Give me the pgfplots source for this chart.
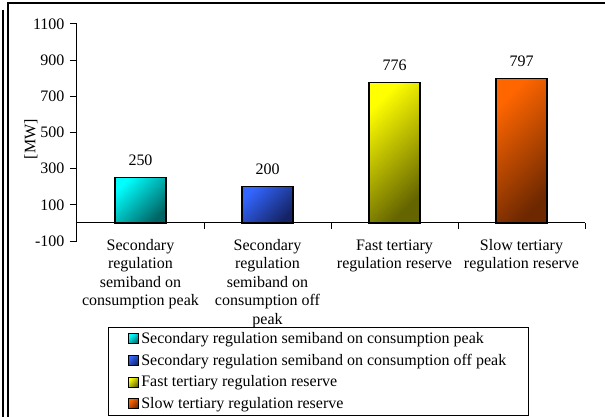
\documentclass[border=0pt]{standalone}
\usepackage{pgfplots}
\pgfplotsset{compat=1.18}
\usepackage{fontspec}
\setmainfont{Liberation Serif}
\newcommand\f{\fontsize{16}{18.4}\selectfont}

\definecolor{c1a}{RGB}{0,255,255}   \definecolor{c1b}{RGB}{0,100,100}
\definecolor{c2a}{RGB}{51,102,255}  \definecolor{c2b}{RGB}{20,35,100}
\definecolor{c3a}{RGB}{255,255,0}   \definecolor{c3b}{RGB}{100,100,0}
\definecolor{c4a}{RGB}{255,102,0}   \definecolor{c4b}{RGB}{110,40,0}

\begin{document}
\begin{tikzpicture}
\begin{axis}[
    at={(0,0)}, anchor=south west,
    scale only axis,
    width=508pt, height=217pt,
    axis x line*=middle, axis y line*=left,
    axis line style={line width=1pt},
    xmin=-0.5, xmax=3.5,
    ymin=-100, ymax=1100,
    ytick={-100,100,300,500,700,900,1100},
    xtick={0,1,2,3},
    minor xtick={-0.5,0.5,1.5,2.5,3.5},
    xticklabels={
        {Secondary\\regulation\\semiband on\\consumption peak},
        {Secondary\\regulation\\semiband on\\consumption off\\peak},
        {Fast tertiary\\regulation reserve},
        {Slow tertiary\\regulation reserve}},
    major x tick style={draw=none},
    tick align=outside,
    major tick length=7pt, minor tick length=6pt,
    tick style={line width=1pt, black},
    every tick label/.append style={font=\f},
    /pgf/number format/assume math mode=true,
    /pgf/number format/1000 sep={},
    xticklabel style={align=center, anchor=north, yshift=-6pt},
    yticklabel style={xshift=-2pt},
    ylabel={[MW]},
    ylabel style={font=\f, at={(axis description cs:-0.0906,0.47)}, anchor=center},
    ybar, bar width=51pt, bar shift=0pt,
    nodes near coords,
    nodes near coords style={font=\f, anchor=base, yshift=12pt},
    legend style={at={(axis description cs:0.061,-0.396)}, anchor=north west,
        draw=black, line width=1pt, font=\f, row sep=5pt,
        inner xsep=20pt, inner ysep=3pt},
    legend cell align=left,
    legend image code/.code={\draw[#1, line width=0.8pt] (0pt,-5pt) rectangle (10pt,5pt);},
]
\addplot[draw=black, line width=1.2pt, top color=c1a, bottom color=c1b, shading angle=45]
    coordinates {(0,250)};
\addplot[draw=black, line width=1.2pt, top color=c2a, bottom color=c2b, shading angle=45]
    coordinates {(1,200)};
\addplot[draw=black, line width=1.2pt, top color=c3a, bottom color=c3b, shading angle=45]
    coordinates {(2,776)};
\addplot[draw=black, line width=1.2pt, top color=c4a, bottom color=c4b, shading angle=45]
    coordinates {(3,797)};
\legend{Secondary regulation semiband on consumption peak,
        Secondary regulation semiband on consumption off peak,
        Fast tertiary regulation reserve,
        Slow tertiary regulation reserve}
\end{axis}
\draw[line width=1.2pt] (-74pt,231pt) -- (-74pt,-176pt);
\draw[line width=1.2pt] (-69pt,-176pt) -- (-69pt,238pt) -- (528pt,238pt);
\pgfresetboundingbox
\path[use as bounding box] (-77pt,-176pt) rectangle (528pt,241pt);
\end{tikzpicture}
\end{document}
